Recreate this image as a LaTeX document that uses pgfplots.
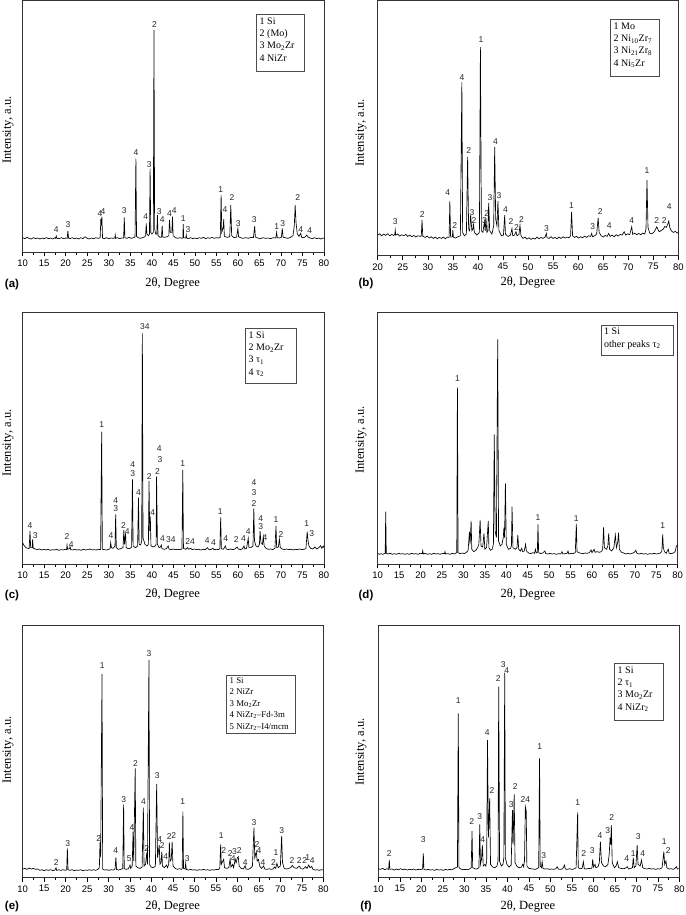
\documentclass[border=0pt]{standalone}
\usepackage{fontspec}
\setmainfont{Liberation Serif}
\newfontfamily\arial{Liberation Sans}
\usepackage{pgfplots}
\pgfplotsset{compat=1.18}
\tikzset{lbl/.style={font=\arial\fontsize{8.5}{9}\selectfont, inner sep=0pt, text=black!85}}
\newcommand{\lab}[3]{\node[lbl] at (axis cs:#1,#2) {#3};}
\pgfplotsset{
 xrdpanel/.style={scale only axis, anchor=south west, xmax=80, ymin=0,
   minor x tick num=1, tick align=outside, xtick pos=bottom, ytick=\empty,
   major tick length=4pt, minor tick length=2.2pt,
   axis line style={line width=0.8pt, black!80},
   every tick/.style={black, line width=0.6pt},
   xticklabel style={font=\arial\fontsize{9.5}{11}\selectfont, inner sep=1pt, yshift=-2.5pt},
   /pgf/number format/assume math mode=true,
   clip mode=individual},
 xrdline/.style={black, line width=0.65pt, mark=none}
}
\begin{document}
\begin{tikzpicture}
\path[use as bounding box] (0pt,0pt) rectangle (685pt,-915pt);

% ---------------- (a)
\begin{axis}[xrdpanel, at={(22.7pt,-252.3pt)}, width=301.3pt, height=251.6pt, xmin=10, ymax=757, xtick={10,15,...,80}]
\addplot[xrdline] coordinates {(10,44)(10.5,41)(11,45)(11.5,42)(12,40)(12.5,44)(13,41)(13.5,43)(14,40)(14.5,43)(15,41)(15.5,44)(16,41)(16.5,43)(17,40)(17.5,44)(17.65,42)(17.8,49)(17.95,42)(18.5,41)(19,44)(19.5,41)(20,43)(20.35,42)(20.5,65)(20.65,43)(21,41)(21.5,44)(22,41)(22.5,43)(23,40)(23.5,44)(24,41)(24.5,47)(25,42)(25.5,40)(26,43)(26.5,41)(27,44)(27.5,42)(27.9,43)(28.0,45)(28.15,100)(28.25,80)(28.4,107)(28.55,43)(29,41)(29.5,44)(30,41)(30.5,43)(31,42)(31.4,43)(31.5,52)(31.6,42)(32,44)(32.5,41)(33,43)(33.45,43)(33.6,105)(33.75,44)(34.2,42)(34.7,45)(35.2,42)(35.7,44)(36.1,46)(36.3,282)(36.45,48)(36.8,44)(37.3,42)(37.8,44)(38.3,46)(38.55,50)(38.7,87)(38.85,55)(39.2,50)(39.45,55)(39.6,252)(39.75,60)(40.0,55)(40.35,60)(40.5,669)(40.65,70)(40.9,55)(41.15,55)(41.3,112)(41.45,50)(41.9,45)(42.25,46)(42.4,80)(42.55,46)(43.0,45)(43.6,47)(43.95,50)(44.1,97)(44.3,60)(44.65,60)(44.8,107)(44.95,50)(45.5,44)(46,42)(46.5,44)(47.0,42)(47.2,43)(47.3,85)(47.4,44)(47.9,43)(48.0,52)(48.1,43)(48.5,41)(49,44)(49.5,41)(50,43)(50.5,41)(51,44)(51.5,42)(52,45)(52.5,41)(53,44)(53.5,42)(54,45)(54.5,42)(55,44)(55.5,43)(55.9,45)(56.1,172)(56.25,60)(56.6,75)(56.7,100)(56.85,48)(57.5,45)(58.1,47)(58.35,142)(58.55,50)(59.1,44)(59.7,46)(60.0,72)(60.15,47)(60.6,44)(61.2,42)(61.8,44)(62.4,42)(63.0,45)(63.6,44)(63.9,79)(64.05,46)(64.6,43)(65.2,41)(65.8,44)(66.4,42)(67.0,43)(67.6,41)(68.2,44)(68.8,43)(69.0,60)(69.15,44)(69.6,43)(70.1,45)(70.3,72)(70.5,45)(71,44)(71.6,42)(72.2,45)(72.8,50)(73.1,80)(73.3,142)(73.5,90)(73.8,55)(74.2,48)(74.6,57)(74.8,45)(75.3,44)(75.7,47)(76.0,52)(76.3,46)(76.8,43)(77.3,41)(77.8,44)(78.3,41)(78.8,43)(79.3,40)(79.8,43)(80,42)};
\lab{17.8}{67}{4}\lab{20.55}{82}{3}\lab{27.95}{117}{4}\lab{28.65}{124}{4}\lab{33.6}{125}{3}\lab{36.3}{299}{4}\lab{38.6}{106}{4}\lab{39.4}{264}{3}\lab{40.6}{684}{2}\lab{41.7}{122}{3}\lab{42.4}{97}{4}\lab{44.1}{117}{4}\lab{45.2}{127}{4}\lab{47.3}{102}{1}\lab{48.4}{67}{3}\lab{56.0}{189}{1}\lab{57.0}{129}{4}\lab{58.6}{164}{2}\lab{60.1}{85}{3}\lab{63.8}{97}{3}\lab{69.0}{77}{1}\lab{70.4}{85}{3}\lab{73.9}{164}{2}\lab{74.6}{69}{4}\lab{76.7}{65}{4}
\end{axis}
\draw[black!70, line width=0.6pt] (256pt,-14pt) rectangle (304.7pt,-71.7pt);
\node[anchor=north west, align=left, font=\fontsize{10}{12.3}\selectfont, inner sep=0pt] at (259.5pt,-17.5pt) {1 Si\\2 (Mo)\\3 Mo\textsubscript{2}Zr\\4 NiZr};
\node[font=\arial\bfseries\fontsize{11.5}{12}\selectfont] at (12pt,-285pt) {(a)};
\node[font=\fontsize{12.5}{14}\selectfont] at (172.7pt,-283pt) {2θ, Degree};
\node[rotate=90, font=\fontsize{12.5}{14}\selectfont] at (8pt,-130pt) {Intensity, a.u.};

% ---------------- (b)
\begin{axis}[xrdpanel, at={(377.7pt,-255.7pt)}, width=300.6pt, height=255pt, xmin=20, ymax=767, xtick={20,25,...,80}]
\addplot[xrdline] coordinates {(20,62)(20.4,66)(20.8,60)(21.2,65)(21.6,61)(22,66)(22.4,60)(22.8,64)(23.2,61)(23.4,63)(23.5,77)(23.6,62)(24,65)(24.4,59)(24.8,63)(25.2,60)(25.6,64)(26,58)(26.4,62)(26.8,57)(27.2,61)(27.6,56)(28,60)(28.5,58)(28.7,60)(28.85,107)(29.0,58)(29.5,55)(29.9,59)(30.3,53)(30.7,57)(31.1,52)(31.5,56)(31.9,51)(32.3,55)(32.7,52)(33.1,56)(33.5,51)(33.9,56)(34.25,55)(34.4,164)(34.55,56)(34.9,57)(35.0,77)(35.1,56)(35.5,53)(36.0,57)(36.5,60)(36.8,522)(36.95,70)(37.3,60)(37.7,65)(37.95,297)(38.15,80)(38.35,75)(38.55,122)(38.8,75)(39.0,80)(39.1,97)(39.3,70)(39.8,62)(40.3,70)(40.5,627)(40.7,75)(41.0,70)(41.3,102)(41.45,75)(41.6,112)(41.8,70)(42.0,75)(42.15,159)(42.35,75)(42.8,65)(43.15,90)(43.35,327)(43.55,110)(43.8,90)(44.0,164)(44.2,75)(44.7,60)(45.1,62)(45.35,122)(45.5,65)(46.0,58)(46.5,62)(46.8,82)(46.95,60)(47.3,62)(47.6,72)(47.8,60)(48.2,64)(48.4,92)(48.6,60)(49.0,52)(49.4,56)(49.8,50)(50.2,54)(50.6,49)(51.0,53)(51.4,50)(51.8,56)(52.2,51)(52.6,55)(53.0,52)(53.4,56)(53.66,67)(53.8,54)(54.2,52)(54.6,57)(55.0,52)(55.4,55)(55.8,51)(56.2,56)(56.6,52)(57.0,57)(57.4,53)(57.8,56)(58.2,54)(58.5,60)(58.7,132)(58.9,60)(59.3,55)(59.7,58)(60.1,53)(60.5,57)(60.9,54)(61.3,59)(61.7,55)(62.1,60)(62.5,58)(62.7,67)(62.9,57)(63.3,60)(63.7,65)(64.0,114)(64.2,70)(64.6,60)(65.0,56)(65.4,61)(65.8,58)(66.1,67)(66.4,58)(66.8,62)(67.2,57)(67.6,63)(68.0,59)(68.4,64)(68.8,62)(69.2,72)(69.5,62)(69.9,66)(70.3,63)(70.7,87)(70.9,64)(71.3,68)(71.7,63)(72.1,67)(72.5,63)(72.9,68)(73.3,65)(73.55,80)(73.75,227)(73.95,85)(74.3,68)(74.7,66)(75.1,70)(75.4,78)(75.7,87)(75.9,80)(76.2,72)(76.6,76)(77.0,80)(77.3,88)(77.6,85)(77.9,95)(78.1,104)(78.3,85)(78.6,75)(79.0,70)(79.4,73)(79.8,68)(80,70)};
\lab{23.5}{104}{3}\lab{28.9}{125}{2}\lab{34.0}{190}{4}\lab{35.4}{92}{2}\lab{36.8}{537}{4}\lab{38.15}{317}{2}\lab{38.8}{130}{3}\lab{39.2}{105}{2}\lab{40.6}{649}{1}\lab{41.3}{105}{3}\lab{41.75}{127}{2}\lab{42.4}{175}{3}\lab{44.2}{180}{3}\lab{43.5}{344}{4}\lab{45.5}{139}{4}\lab{46.6}{102}{2}\lab{47.7}{85}{2}\lab{48.7}{109}{2}\lab{53.7}{82}{3}\lab{58.7}{152}{1}\lab{62.9}{89}{3}\lab{64.4}{132}{2}\lab{66.2}{92}{4}\lab{70.7}{105}{4}\lab{73.75}{255}{1}\lab{75.7}{105}{2}\lab{77.2}{105}{2}\lab{78.2}{147}{4}
\end{axis}
\draw[black!70, line width=0.6pt] (610pt,-19pt) rectangle (659.3pt,-76pt);
\node[anchor=north west, align=left, font=\fontsize{10}{12.3}\selectfont, inner sep=0pt] at (613.5pt,-22.5pt) {1 Mo\\2 Ni\textsubscript{10}Zr\textsubscript{7}\\3 Ni\textsubscript{21}Zr\textsubscript{8}\\4 Ni\textsubscript{5}Zr};
\node[font=\arial\bfseries\fontsize{11.5}{12}\selectfont] at (366pt,-284pt) {(b)};
\node[font=\fontsize{12.5}{14}\selectfont] at (528pt,-282pt) {2θ, Degree};
\node[rotate=90, font=\fontsize{12.5}{14}\selectfont] at (361pt,-133pt) {Intensity, a.u.};

% ---------------- (c)
\begin{axis}[xrdpanel, at={(22.7pt,-564.3pt)}, width=301.3pt, height=251.6pt, xmin=10, ymax=755, xtick={10,15,...,80}]
\addplot[xrdline] coordinates {(10,65)(10.3,57)(10.6,52)(10.9,49)(11.2,48)(11.5,47)(11.7,100)(11.85,50)(12.2,50)(12.3,75)(12.45,48)(12.9,46)(13.4,44)(13.9,46)(14.4,43)(14.9,45)(15.4,43)(15.9,45)(16.4,42)(16.9,44)(17.4,43)(17.9,45)(18.4,42)(18.9,44)(19.4,43)(19.9,45)(20.2,44)(20.3,58)(20.45,45)(20.9,48)(21.0,53)(21.15,44)(21.6,43)(22.1,45)(22.6,43)(23.1,44)(23.6,42)(24.1,45)(24.6,43)(25.1,44)(25.6,46)(26.1,43)(26.6,44)(27.1,43)(27.6,45)(28.1,44)(28.35,398)(28.5,45)(29.0,44)(29.5,43)(30.0,45)(30.3,47)(30.45,65)(30.6,50)(31.0,48)(31.45,55)(31.6,150)(31.75,50)(32.2,45)(32.8,47)(33.3,50)(33.5,103)(33.65,60)(33.9,93)(34.05,50)(34.5,47)(35.0,48)(35.3,52)(35.5,255)(35.65,55)(36.2,50)(36.7,55)(36.9,200)(37.05,60)(37.4,58)(37.65,70)(37.8,693)(37.95,80)(38.4,60)(38.9,55)(39.2,60)(39.35,250)(39.5,100)(39.65,143)(39.8,55)(40.3,52)(40.8,55)(41.0,60)(41.1,263)(41.3,60)(41.7,50)(42.0,52)(42.2,58)(42.35,47)(42.9,45)(43.4,47)(43.8,55)(44.0,46)(44.5,44)(45.0,46)(45.5,44)(46.0,45)(46.5,44)(47.0,46)(47.2,283)(47.35,48)(47.9,45)(48.3,50)(48.6,45)(49.0,48)(49.4,44)(49.9,46)(50.4,44)(50.9,45)(51.4,43)(51.9,45)(52.4,44)(52.9,50)(53.2,45)(53.7,44)(54.2,48)(54.5,44)(55.0,45)(55.5,44)(55.8,47)(56.0,141)(56.15,47)(56.6,45)(57.1,55)(57.3,46)(57.8,44)(58.3,46)(58.8,44)(59.3,46)(59.8,52)(60.1,46)(60.6,44)(61.1,47)(61.4,55)(61.6,46)(62.0,48)(62.4,78)(62.55,50)(63.0,50)(63.5,55)(63.7,168)(63.85,70)(64.2,55)(64.7,52)(65.0,60)(65.15,100)(65.35,65)(65.7,60)(65.9,83)(66.1,55)(66.6,47)(67.1,45)(67.6,46)(68.1,44)(68.6,48)(68.85,115)(69.0,50)(69.4,52)(69.65,75)(69.85,50)(70.3,46)(70.8,44)(71.3,46)(71.8,44)(72.3,45)(72.8,43)(73.3,45)(73.8,44)(74.3,46)(74.8,44)(75.3,45)(75.8,47)(76.1,98)(76.3,70)(76.5,55)(76.9,48)(77.4,46)(77.9,52)(78.3,46)(78.8,50)(79.2,56)(79.5,48)(79.8,55)(80,50)};
\lab{11.7}{116}{4}\lab{12.9}{86}{3}\lab{20.3}{83}{2}\lab{21.3}{60}{4}\lab{28.35}{418}{1}\lab{30.5}{86}{4}\lab{31.6}{190}{4}\lab{31.6}{167}{3}\lab{33.4}{117}{2}\lab{34.3}{98}{4}\lab{35.55}{298}{4}\lab{35.55}{271}{3}\lab{36.9}{215}{4}\lab{38.4}{713}{34}\lab{39.4}{263}{2}\lab{40.2}{156}{4}\lab{41.3}{278}{2}\lab{41.9}{315}{3}\lab{41.75}{346}{4}\lab{42.45}{76}{4}\lab{44.4}{73}{34}\lab{47.2}{301}{1}\lab{48.9}{68}{24}\lab{52.9}{71}{4}\lab{54.3}{66}{4}\lab{55.9}{158}{1}\lab{57.2}{76}{4}\lab{59.6}{75}{2}\lab{61.3}{76}{4}\lab{62.4}{98}{4}\lab{63.75}{181}{2}\lab{63.75}{215}{3}\lab{63.75}{245}{4}\lab{65.3}{138}{4}\lab{65.3}{113}{3}\lab{66.3}{81}{4}\lab{68.85}{133}{1}\lab{70.0}{90}{2}\lab{76.0}{121}{1}\lab{77.15}{93}{3}
\end{axis}
\draw[black!70, line width=0.6pt] (245pt,-328pt) rectangle (296.7pt,-383.3pt);
\node[anchor=north west, align=left, font=\fontsize{10}{12.3}\selectfont, inner sep=0pt] at (248.5pt,-331.5pt) {1 Si\\2 Mo\textsubscript{2}Zr\\3 τ\textsubscript{1}\\4 τ\textsubscript{2}};
\node[font=\arial\bfseries\fontsize{11.5}{12}\selectfont] at (12pt,-596pt) {(c)};
\node[font=\fontsize{12.5}{14}\selectfont] at (172.7pt,-594pt) {2θ, Degree};
\node[rotate=90, font=\fontsize{12.5}{14}\selectfont] at (8pt,-443pt) {Intensity, a.u.};

% ---------------- (d)
\begin{axis}[xrdpanel, at={(377.7pt,-564.3pt)}, width=300pt, height=251.6pt, xmin=10, ymax=755, xtick={10,15,...,80}]
\addplot[xrdline] coordinates {(10,33)(10.4,30)(10.8,32)(11.2,30)(11.6,32)(11.75,33)(11.87,158)(12.0,33)(12.4,31)(12.9,33)(13.4,30)(13.9,32)(14.4,30)(14.9,33)(15.4,31)(15.9,32)(16.4,30)(16.9,32)(17.4,30)(17.9,33)(18.4,31)(18.9,32)(19.4,30)(19.9,33)(20.4,32)(20.5,41)(20.65,31)(21.1,33)(21.6,30)(22.1,32)(22.6,30)(23.1,33)(23.6,31)(24.1,32)(24.6,30)(25.1,33)(25.6,32)(25.7,38)(25.85,31)(26.4,32)(26.9,30)(27.4,33)(27.9,31)(28.3,34)(28.45,36)(28.6,531)(28.75,35)(29.2,32)(29.7,34)(30.2,32)(30.7,36)(31.1,42)(31.4,98)(31.55,60)(31.8,130)(31.95,45)(32.4,38)(32.9,42)(33.3,50)(33.6,60)(33.9,133)(34.1,55)(34.5,52)(34.8,93)(35.0,45)(35.4,50)(35.8,130)(35.95,50)(36.3,42)(36.7,45)(37.0,60)(37.2,390)(37.4,100)(37.7,80)(38.0,675)(38.2,70)(38.6,55)(39.0,60)(39.3,80)(39.45,110)(39.6,80)(39.8,243)(40.0,60)(40.5,45)(41.0,48)(41.2,55)(41.35,173)(41.55,50)(42.1,45)(42.5,50)(42.7,88)(42.9,45)(43.3,40)(43.6,48)(43.8,38)(44.2,40)(44.5,60)(44.7,40)(45.2,34)(45.7,32)(46.2,35)(46.6,33)(46.8,45)(47.0,34)(47.25,36)(47.4,120)(47.55,35)(48.0,32)(48.5,34)(49.0,40)(49.2,32)(49.7,31)(50.2,33)(50.7,31)(51.2,32)(51.7,30)(52.2,32)(52.7,31)(53.0,38)(53.2,31)(53.7,32)(54.2,33)(54.4,40)(54.6,31)(55.1,33)(55.6,32)(56.1,35)(56.35,121)(56.5,38)(56.9,35)(57.4,33)(57.9,32)(58.4,34)(58.9,33)(59.4,35)(59.8,43)(60.0,35)(60.5,45)(60.7,36)(61.2,38)(61.7,36)(62.2,38)(62.5,45)(62.7,111)(62.9,50)(63.4,45)(63.7,55)(63.9,93)(64.1,45)(64.6,40)(65.1,50)(65.45,88)(65.7,50)(66.0,65)(66.2,95)(66.4,45)(66.9,36)(67.4,34)(67.9,31)(68.4,33)(68.9,31)(69.4,33)(69.9,36)(70.2,42)(70.5,33)(71.0,31)(71.5,33)(72.0,31)(72.5,32)(73.0,30)(73.5,32)(74.0,31)(74.5,33)(75.0,31)(75.5,32)(76.0,34)(76.3,40)(76.5,90)(76.65,50)(76.9,38)(77.3,33)(77.8,45)(78.0,33)(78.5,32)(79.0,34)(79.4,38)(79.7,55)(80,58)};
\lab{28.6}{556}{1}\lab{47.4}{141}{1}\lab{56.3}{138}{1}\lab{76.5}{115}{1}
\end{axis}
\draw[black!70, line width=0.6pt] (601pt,-325pt) rectangle (673.3pt,-355pt);
\node[anchor=north west, align=left, font=\fontsize{10}{12.3}\selectfont, inner sep=0pt] at (604pt,-328pt) {1 Si\\other peaks τ\textsubscript{2}};
\node[font=\arial\bfseries\fontsize{11.5}{12}\selectfont] at (366pt,-596pt) {(d)};
\node[font=\fontsize{12.5}{14}\selectfont] at (528pt,-594pt) {2θ, Degree};
\node[rotate=90, font=\fontsize{12.5}{14}\selectfont] at (361pt,-440pt) {Intensity, a.u.};

% ---------------- (e)
\begin{axis}[xrdpanel, at={(22.7pt,-877.7pt)}, width=300.6pt, height=252.7pt, xmin=10, ymax=758, xtick={10,15,...,80}]
\addplot[xrdline] coordinates {(10,26)(10.5,28)(11,25)(11.5,29)(12,26)(12.5,28)(13,25)(13.5,26)(14,22)(14.5,24)(15,21)(15.5,24)(16,22)(16.5,24)(17,21)(17.5,23)(17.76,30)(17.9,22)(18.4,24)(18.9,22)(19.4,24)(19.9,22)(20.25,24)(20.4,88)(20.55,24)(21.0,22)(21.5,24)(22.0,21)(22.5,23)(23.0,22)(23.5,24)(24.0,21)(24.5,23)(25.0,22)(25.5,24)(26.0,22)(26.5,24)(27.0,22)(27.5,25)(27.85,30)(28.0,106)(28.15,60)(28.47,611)(28.62,26)(29.1,23)(29.6,24)(30.1,22)(30.6,24)(31.1,23)(31.5,26)(31.7,61)(31.85,25)(32.3,23)(32.8,25)(33.3,27)(33.5,220)(33.65,27)(34.1,25)(34.6,27)(35.0,38)(35.15,28)(35.5,35)(35.7,138)(35.85,50)(36.2,328)(36.35,35)(36.8,30)(37.3,28)(37.8,32)(38.1,210)(38.25,35)(38.6,40)(38.9,75)(39.05,40)(39.4,653)(39.55,40)(39.9,32)(40.4,30)(40.9,35)(41.2,281)(41.4,60)(41.8,98)(41.95,40)(42.2,45)(42.4,78)(42.55,35)(43.0,30)(43.5,38)(43.7,30)(44.0,40)(44.15,106)(44.35,50)(44.6,55)(44.8,108)(45.0,35)(45.5,28)(46.0,25)(46.5,27)(47.0,25)(47.15,28)(47.3,198)(47.45,28)(47.8,26)(47.95,43)(48.1,25)(48.6,23)(49.1,25)(49.6,23)(50.1,24)(50.6,22)(51.1,24)(51.6,23)(52.1,25)(52.6,23)(53.1,24)(53.6,22)(54.1,24)(54.6,23)(55.1,25)(55.6,24)(55.9,30)(56.1,100)(56.25,40)(56.8,55)(57.0,30)(57.5,28)(58.0,30)(58.3,56)(58.5,32)(58.9,40)(59.1,30)(59.5,55)(59.7,45)(60.0,60)(60.2,63)(60.4,35)(60.9,28)(61.4,26)(61.8,36)(62.0,26)(62.5,25)(63.0,28)(63.5,35)(63.85,150)(64.05,60)(64.4,78)(64.6,50)(64.9,55)(65.2,35)(65.6,28)(66.1,35)(66.4,26)(66.9,25)(67.4,27)(67.9,25)(68.4,27)(68.6,32)(68.9,28)(69.2,43)(69.5,30)(70.0,35)(70.3,125)(70.5,45)(70.9,28)(71.4,26)(71.9,28)(72.4,30)(72.8,37)(73.2,30)(73.8,28)(74.4,35)(74.8,27)(75.3,26)(75.9,33)(76.2,28)(76.6,38)(76.9,30)(77.3,34)(77.6,25)(78.1,23)(78.6,24)(79.1,22)(79.6,24)(80,23)};
\lab{17.8}{46}{2}\lab{20.5}{101}{3}\lab{27.7}{118}{2}\lab{28.55}{636}{1}\lab{31.65}{80}{4}\lab{33.5}{235}{3}\lab{34.8}{56}{5}\lab{35.45}{151}{4}\lab{36.25}{343}{2}\lab{38.1}{228}{4}\lab{38.9}{88}{2}\lab{39.4}{673}{3}\lab{41.35}{306}{3}\lab{41.9}{113}{4}\lab{42.5}{96}{2}\lab{43.3}{64}{4}\lab{44.15}{125}{2}\lab{45.2}{128}{2}\lab{47.25}{228}{1}\lab{48.3}{58}{3}\lab{56.25}{126}{1}\lab{56.8}{83}{2}\lab{58.3}{73}{2}\lab{59.3}{78}{3}\lab{59.05}{58}{4}\lab{60.4}{83}{2}\lab{61.8}{45}{4}\lab{63.85}{166}{3}\lab{64.55}{101}{2}\lab{65.0}{81}{4}\lab{65.95}{46}{4}\lab{68.4}{46}{2}\lab{69.0}{75}{1}\lab{70.3}{141}{3}\lab{72.7}{51}{2}\lab{74.4}{53}{2}\lab{75.7}{51}{2}\lab{76.4}{61}{1}\lab{77.4}{51}{4}
\end{axis}
\draw[black!70, line width=0.6pt] (226.7pt,-675pt) rectangle (295.7pt,-733.3pt);
\node[anchor=north west, align=left, font=\fontsize{8.8}{11.4}\selectfont, inner sep=0pt] at (229.5pt,-677.5pt) {1 Si\\2 NiZr\\3 Mo\textsubscript{2}Zr\\4 NiZr\textsubscript{2}–Fd-3m\\5 NiZr\textsubscript{2}–I4/mcm};
\node[font=\arial\bfseries\fontsize{11.5}{12}\selectfont] at (12pt,-907pt) {(e)};
\node[font=\fontsize{12.5}{14}\selectfont] at (172.7pt,-906pt) {2θ, Degree};
\node[rotate=90, font=\fontsize{12.5}{14}\selectfont] at (8pt,-750pt) {Intensity, a.u.};

% ---------------- (f)
\begin{axis}[xrdpanel, at={(378.3pt,-877.7pt)}, width=301pt, height=252.7pt, xmin=10, ymax=758, xtick={10,15,...,80}]
\addplot[xrdline] coordinates {(10,27)(10.5,25)(11,28)(11.5,24)(12,27)(12.4,25)(12.56,53)(12.7,25)(13.2,26)(13.7,23)(14.2,26)(14.7,24)(15.2,27)(15.7,24)(16.2,26)(16.7,23)(17.2,25)(17.7,24)(18.2,26)(18.7,23)(19.2,25)(19.7,24)(20.3,26)(20.47,73)(20.6,25)(21.1,23)(21.6,25)(22.1,23)(22.6,24)(23.1,22)(23.6,25)(24.1,23)(24.6,24)(25.1,22)(25.6,25)(26.1,23)(26.6,25)(27.1,24)(27.6,27)(28.0,30)(28.4,32)(28.6,493)(28.75,30)(29.2,26)(29.7,24)(30.2,25)(30.7,24)(31.2,26)(31.6,30)(31.8,140)(31.95,30)(32.4,27)(32.9,26)(33.4,30)(33.6,160)(33.75,40)(34.0,55)(34.2,98)(34.4,35)(34.8,40)(35.0,35)(35.2,50)(35.4,413)(35.6,120)(35.9,238)(36.1,40)(36.6,32)(37.1,30)(37.6,35)(37.85,50)(38.0,573)(38.2,50)(38.6,35)(39.0,40)(39.2,60)(39.4,615)(39.55,60)(39.9,40)(40.4,32)(40.9,38)(41.2,203)(41.35,100)(41.6,250)(41.8,45)(42.3,33)(42.8,30)(43.3,32)(43.6,40)(43.8,33)(44.0,50)(44.2,213)(44.4,200)(44.55,35)(45.0,28)(45.5,27)(46.0,26)(46.5,25)(47.0,28)(47.3,30)(47.5,358)(47.65,35)(47.95,30)(48.1,48)(48.3,28)(48.8,26)(49.3,27)(49.8,25)(50.3,26)(50.8,25)(51.3,27)(51.6,33)(51.9,26)(52.4,25)(52.9,27)(53.3,38)(53.5,26)(54.0,25)(54.5,27)(55.0,25)(55.5,26)(56.0,30)(56.36,196)(56.5,30)(57.0,27)(57.4,28)(57.7,48)(57.9,27)(58.4,26)(58.9,28)(59.4,27)(59.7,30)(59.85,55)(60.05,32)(60.4,40)(60.6,30)(61.1,33)(61.4,45)(61.65,108)(61.9,45)(62.4,35)(62.9,33)(63.4,40)(63.7,70)(63.9,120)(64.05,100)(64.2,158)(64.4,45)(64.9,30)(65.3,35)(65.6,48)(65.9,30)(66.4,28)(66.9,27)(67.4,28)(67.9,33)(68.2,26)(68.7,28)(69.1,30)(69.3,60)(69.5,30)(69.9,35)(70.2,98)(70.4,40)(70.9,35)(71.2,53)(71.5,30)(72.0,27)(72.5,26)(73.0,28)(73.5,26)(74.0,27)(74.5,25)(75.0,27)(75.5,26)(76.0,30)(76.4,78)(76.6,40)(76.9,50)(77.1,30)(77.6,26)(78.1,27)(78.6,25)(79.0,28)(79.3,33)(79.6,26)(80,27)};
\lab{12.56}{73}{2}\lab{20.47}{113}{3}\lab{28.6}{531}{1}\lab{31.7}{168}{2}\lab{33.57}{183}{3}\lab{34.26}{115}{4}\lab{35.35}{436}{4}\lab{36.43}{261}{2}\lab{37.9}{596}{2}\lab{39.07}{638}{3}\lab{39.84}{621}{4}\lab{40.93}{218}{3}\lab{41.86}{273}{2}\lab{44.19}{235}{24}\lab{47.52}{393}{1}\lab{48.45}{66}{3}\lab{56.36}{226}{1}\lab{57.75}{73}{2}\lab{59.77}{80}{3}\lab{61.55}{126}{4}\lab{63.33}{140}{3}\lab{64.26}{180}{2}\lab{67.75}{56}{4}\lab{69.3}{73}{1}\lab{70.47}{123}{3}\lab{71.47}{73}{4}\lab{76.5}{108}{1}\lab{77.44}{81}{2}
\end{axis}
\draw[black!70, line width=0.6pt] (614.3pt,-663.3pt) rectangle (663.3pt,-720pt);
\node[anchor=north west, align=left, font=\fontsize{10}{12.3}\selectfont, inner sep=0pt] at (617.5pt,-666.5pt) {1 Si\\2 τ\textsubscript{1}\\3 Mo\textsubscript{2}Zr\\4 NiZr\textsubscript{2}};
\node[font=\arial\bfseries\fontsize{11.5}{12}\selectfont] at (366pt,-907pt) {(f)};
\node[font=\fontsize{12.5}{14}\selectfont] at (528pt,-906pt) {2θ, Degree};
\node[rotate=90, font=\fontsize{12.5}{14}\selectfont] at (361pt,-752pt) {Intensity, a.u.};
\end{tikzpicture}
\end{document}
